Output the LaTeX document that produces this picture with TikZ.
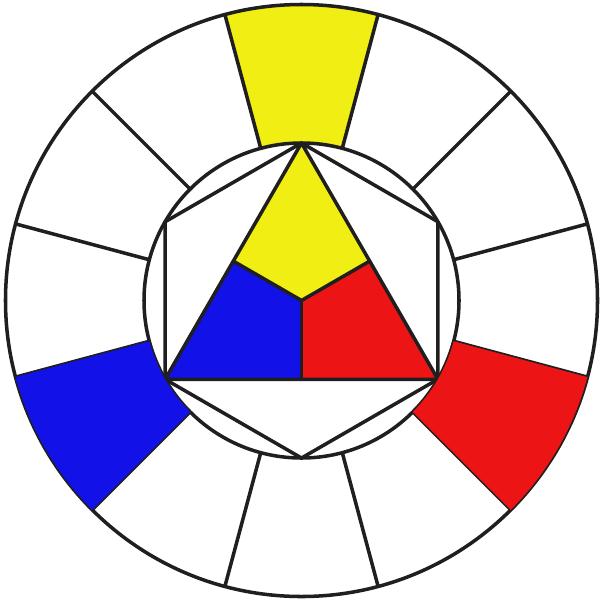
\documentclass[tikz,border=0pt]{standalone}
\usetikzlibrary{calc}
\definecolor{ittenyellow}{RGB}{240,238,18}
\definecolor{ittenblue}{RGB}{18,18,232}
\definecolor{ittenred}{RGB}{236,20,20}

\begin{document}
\begin{tikzpicture}[line join=round,
  wheel/.style={draw=black!88,line width=1pt}]
  \useasboundingbox (-3.015,-2.995) rectangle (2.995,3.005);
  \def\rin{1.575} \def\rout{2.96}
  % corners of the triangle and its centre
  \coordinate (top) at (90:\rin); \coordinate (bl) at (210:\rin); \coordinate (br) at (330:\rin);
  \coordinate (mid) at (0,0);
  \coordinate (ml) at ($(top)!0.5!(bl)$); \coordinate (mr) at ($(top)!0.5!(br)$); \coordinate (mb) at ($(bl)!0.5!(br)$);
  % yellow ring piece
  \fill[ittenyellow] (75:\rin) -- (75:\rout) arc (75:105:\rout) -- (105:\rin) arc (105:75:\rin) -- cycle;
  % the three parts of the triangle
  \fill[ittenyellow] (top) -- (mr) -- (mid) -- (ml) -- cycle;
  \fill[ittenblue] (bl) -- (ml) -- (mid) -- (mb) -- cycle;
  \fill[ittenred] (br) -- (mr) -- (mid) -- (mb) -- cycle;
  % circles and the twelve spokes
  \draw[wheel] (0,0) circle (\rout);
  \draw[wheel] (0,0) circle (\rin);
  \foreach \a in {15,45,...,345} \draw[wheel] (\a:\rin) -- (\a:\rout);
  % hexagon, triangle and the inner split
  \draw[wheel] (30:\rin) \foreach \a in {90,150,...,330} {-- (\a:\rin)} -- cycle;
  \draw[wheel] (top) -- (bl) -- (br) -- cycle;
  \draw[wheel] (ml) -- (mid) -- (mr); \draw[wheel] (mid) -- (mb);
  % blue and red ring pieces, laid over the lines
  \fill[ittenblue] (195:\rin) -- (195:\rout) arc (195:225:\rout) -- (225:\rin) arc (225:195:\rin) -- cycle;
  \fill[ittenred] (315:\rin) -- (315:\rout) arc (315:345:\rout) -- (345:\rin) arc (345:315:\rin) -- cycle;
\end{tikzpicture}
\end{document}
